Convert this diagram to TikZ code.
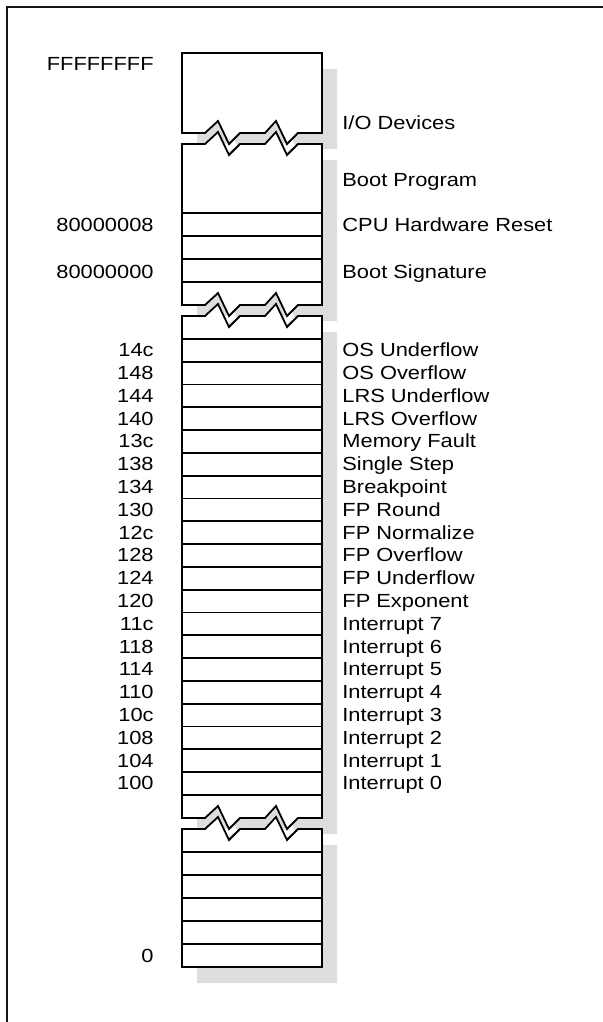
\documentclass[tikz,border=0pt]{standalone}
\usepackage{fontspec}
\setmainfont[FakeStretch=1.15]{Liberation Sans}
\usepackage{tikz}
\usetikzlibrary{positioning}
\definecolor{shadowgray}{RGB}{221,221,221}
\definecolor{framecolor}{RGB}{20,20,20}

% zigzag break across the memory column
\newcommand{\zigright}[1]{-- (205,#1) -- (218,#1-12) -- (229,#1+11) -- (240,#1) -- (265,#1) -- (276,#1-12) -- (287,#1+11) -- (298,#1) -- (322,#1)}
\newcommand{\zigleft}[1]{-- (298,#1) -- (287,#1+11) -- (276,#1-12) -- (265,#1) -- (240,#1) -- (229,#1+11) -- (218,#1-12) -- (205,#1) -- (182,#1)}

% the four pieces of the column
\newcommand{\iopiece}{(182,53) -- (322,53) -- (322,133) \zigleft{133} -- cycle}
\newcommand{\bootpiece}{(182,144) \zigright{144} -- (322,305) \zigleft{305} -- cycle}
\newcommand{\vecpiece}{(182,316) \zigright{316} -- (322,818) \zigleft{818} -- cycle}
\newcommand{\lowpiece}{(182,829) \zigright{829} -- (322,967) -- (182,967) -- cycle}

\begin{document}
\begin{tikzpicture}[
    x=0.5pt, y=-0.5pt,
    font=\fontsize{9.5}{11}\selectfont,
    addr/.style={anchor=base east, inner sep=0pt},
    lbl/.style={anchor=base west, inner sep=0pt},
    column/.style={draw, line width=0.9pt, fill=white, line join=miter},
    shadow/.style={fill=shadowgray},
    row/.style={line width=0.9pt}
]
\useasboundingbox (0,0) rectangle (603,1022);

% Frame
\draw[framecolor, line width=1pt] (7,1022) -- (7,7.5) -- (603,7.5);

% Shadows
\begin{scope}[shift={(15,16)}]
\fill[shadow] \iopiece;
\fill[shadow] \bootpiece;
\fill[shadow] \vecpiece;
\fill[shadow] \lowpiece;
\end{scope}

% Column pieces
\draw[column] \iopiece;
\draw[column] \bootpiece;
\draw[column] \vecpiece;
\draw[column] \lowpiece;

% Rows - boot area
\draw[row] (182,213) -- (322,213) (182,236) -- (322,236) (182,259) -- (322,259) (182,282) -- (322,282);

% Rows - vector table
\draw[row] (182,338.8) -- (322,338.8) (182,361.6) -- (322,361.6) (182,384.4) -- (322,384.4)
           (182,407.2) -- (322,407.2) (182,430) -- (322,430) (182,452.8) -- (322,452.8)
           (182,475.6) -- (322,475.6) (182,498.4) -- (322,498.4) (182,521.2) -- (322,521.2)
           (182,544) -- (322,544) (182,566.8) -- (322,566.8) (182,589.6) -- (322,589.6)
           (182,612.4) -- (322,612.4) (182,635.2) -- (322,635.2) (182,658) -- (322,658)
           (182,680.8) -- (322,680.8) (182,703.6) -- (322,703.6) (182,726.4) -- (322,726.4)
           (182,749.2) -- (322,749.2) (182,772) -- (322,772) (182,794.8) -- (322,794.8);

% Rows - low memory
\draw[row] (182,852) -- (322,852) (182,875) -- (322,875) (182,898) -- (322,898) (182,921) -- (322,921) (182,944) -- (322,944);

% Upper addresses and labels
\node[addr] (a_top) at (154,71) {FFFFFFFF};
\node[lbl] (l_io) at (342,130) {I/O Devices};
\node[lbl] (l_boot) at (342,186) {Boot Program};
\node[addr] (a_reset) at (154,231) {80000008};
\node[lbl] (l_reset) at (342,231) {CPU Hardware Reset};
\node[addr] (a_sig) at (154,278) {80000000};
\node[lbl] (l_sig) at (342,278) {Boot Signature};

% Vector table addresses
\node[addr] (a_14c) at (154,356.7) {14c};
\node[addr] (a_148) at (154,379.5) {148};
\node[addr] (a_144) at (154,402.3) {144};
\node[addr] (a_140) at (154,425.1) {140};
\node[addr] (a_13c) at (154,447.9) {13c};
\node[addr] (a_138) at (154,470.7) {138};
\node[addr] (a_134) at (154,493.5) {134};
\node[addr] (a_130) at (154,516.3) {130};
\node[addr] (a_12c) at (154,539.1) {12c};
\node[addr] (a_128) at (154,561.9) {128};
\node[addr] (a_124) at (154,584.7) {124};
\node[addr] (a_120) at (154,607.5) {120};
\node[addr] (a_11c) at (154,630.3) {11c};
\node[addr] (a_118) at (154,653.1) {118};
\node[addr] (a_114) at (154,675.9) {114};
\node[addr] (a_110) at (154,698.7) {110};
\node[addr] (a_10c) at (154,721.5) {10c};
\node[addr] (a_108) at (154,744.3) {108};
\node[addr] (a_104) at (154,767.1) {104};
\node[addr] (a_100) at (154,789.9) {100};

% Vector table labels
\node[lbl] (l_osu) at (342,356.7) {OS Underflow};
\node[lbl] (l_oso) at (342,379.5) {OS Overflow};
\node[lbl] (l_lrsu) at (342,402.3) {LRS Underflow};
\node[lbl] (l_lrso) at (342,425.1) {LRS Overflow};
\node[lbl] (l_mem) at (342,447.9) {Memory Fault};
\node[lbl] (l_step) at (342,470.7) {Single Step};
\node[lbl] (l_brk) at (342,493.5) {Breakpoint};
\node[lbl] (l_fpr) at (342,516.3) {FP Round};
\node[lbl] (l_fpn) at (342,539.1) {FP Normalize};
\node[lbl] (l_fpo) at (342,561.9) {FP Overflow};
\node[lbl] (l_fpu) at (342,584.7) {FP Underflow};
\node[lbl] (l_fpe) at (342,607.5) {FP Exponent};
\node[lbl] (l_int7) at (342,630.3) {Interrupt 7};
\node[lbl] (l_int6) at (342,653.1) {Interrupt 6};
\node[lbl] (l_int5) at (342,675.9) {Interrupt 5};
\node[lbl] (l_int4) at (342,698.7) {Interrupt 4};
\node[lbl] (l_int3) at (342,721.5) {Interrupt 3};
\node[lbl] (l_int2) at (342,744.3) {Interrupt 2};
\node[lbl] (l_int1) at (342,767.1) {Interrupt 1};
\node[lbl] (l_int0) at (342,789.9) {Interrupt 0};

% Lowest address
\node[addr] (a_zero) at (154,962) {0};

\end{tikzpicture}
\end{document}
